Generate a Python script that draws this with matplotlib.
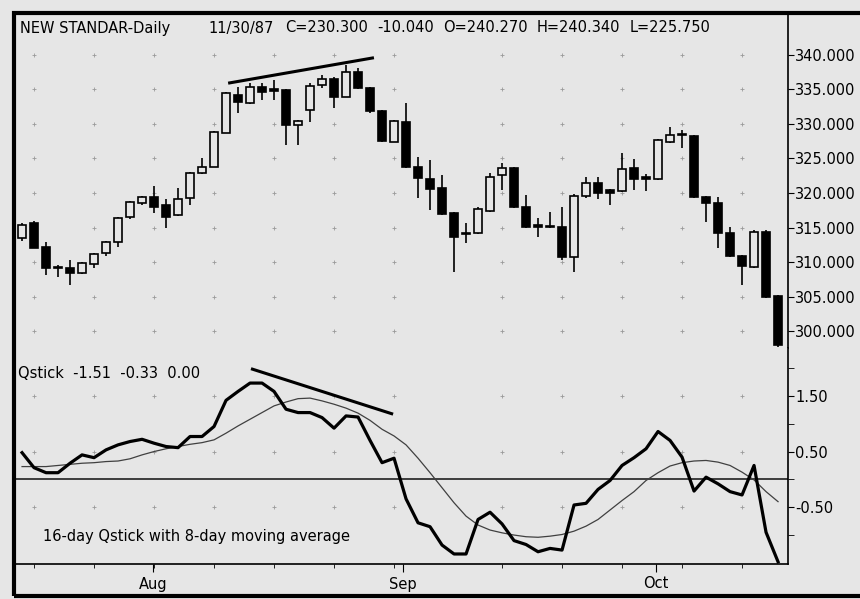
import numpy as np
import matplotlib.pyplot as plt
from matplotlib.patches import Rectangle

plt.rcParams['font.family'] = ['DejaVu Sans']

# daily candles (trading day index 0..63)
opens = [313.5, 315.7, 312.2, 309.3, 309.2, 308.5, 309.8, 311.3, 312.9, 316.5,
         318.6, 319.4, 318.3, 316.8, 319.3, 322.9, 323.8, 328.7, 334.2, 333.0,
         335.3, 334.9, 334.9, 329.8, 332.0, 335.6, 336.5, 333.9, 337.5, 335.2,
         331.8, 327.4, 330.3, 323.8, 322.0, 320.7, 317.1, 314.0, 314.2, 317.4,
         322.6, 323.6, 318.0, 315.3, 315.1, 315.1, 310.8, 319.6, 321.5, 320.4,
         320.3, 323.6, 322.3, 322.0, 327.4, 328.4, 328.2, 319.4, 318.6, 314.2,
         310.9, 309.3, 314.4, 305.1]
highs = [315.6, 315.9, 312.9, 309.6, 310.3, 310.0, 311.3, 313.0, 316.5, 318.9,
         319.6, 321.0, 319.1, 320.7, 323.0, 325.1, 329.0, 334.6, 335.3, 335.9,
         335.9, 336.3, 335.0, 330.6, 335.9, 337.0, 336.8, 338.5, 338.0, 335.3,
         332.0, 330.5, 333.0, 325.2, 324.8, 322.6, 317.2, 315.7, 317.9, 322.9,
         324.3, 323.8, 319.7, 316.4, 317.3, 318.0, 319.8, 322.3, 322.3, 320.5,
         325.8, 324.9, 322.7, 327.8, 329.5, 329.1, 328.4, 319.5, 319.4, 315.1,
         311.1, 314.6, 314.6, 305.3]
lows = [313.0, 312.0, 308.2, 307.9, 306.7, 308.3, 309.2, 310.9, 312.2, 316.3,
        318.3, 317.1, 315.0, 316.6, 318.3, 322.8, 323.7, 328.6, 331.6, 332.9,
        333.4, 333.4, 326.9, 326.9, 330.3, 335.2, 332.3, 333.8, 335.0, 331.6,
        327.3, 327.3, 323.6, 319.3, 317.5, 316.8, 308.6, 312.8, 314.0, 317.2,
        320.4, 317.8, 314.9, 313.6, 315.0, 310.3, 308.6, 319.3, 319.1, 318.3,
        320.1, 320.4, 320.3, 321.9, 327.2, 326.5, 319.2, 315.8, 312.1, 310.7,
        306.7, 309.1, 304.8, 297.8]
closes = [315.4, 312.1, 309.2, 309.2, 308.5, 309.9, 311.2, 312.9, 316.4, 318.7,
          319.4, 318.0, 316.5, 319.1, 322.9, 323.8, 328.8, 334.4, 333.1, 335.3,
          334.6, 334.8, 329.8, 330.4, 335.5, 336.5, 333.9, 337.5, 335.2, 331.8,
          327.5, 330.4, 323.8, 322.2, 320.6, 317.0, 313.6, 314.2, 317.7, 322.3,
          323.6, 318.0, 315.1, 315.1, 315.1, 310.8, 319.6, 321.5, 320.0, 320.0,
          323.5, 322.0, 322.0, 327.7, 328.4, 328.4, 319.4, 318.6, 314.2, 310.9,
          309.5, 314.4, 305.0, 298.0]

# 16-day Qstick and its 8-day moving average
qstick = [0.48, 0.21, 0.12, 0.12, 0.29, 0.44, 0.39, 0.53, 0.62, 0.68,
          0.72, 0.65, 0.59, 0.57, 0.77, 0.77, 0.95, 1.42, 1.58, 1.73,
          1.73, 1.58, 1.26, 1.20, 1.20, 1.11, 0.92, 1.14, 1.12, 0.70,
          0.30, 0.38, -0.35, -0.78, -0.85, -1.18, -1.34, -1.34, -0.72, -0.59,
          -0.80, -1.10, -1.17, -1.30, -1.24, -1.27, -0.46, -0.43, -0.18, -0.02,
          0.25, 0.39, 0.55, 0.86, 0.70, 0.40, -0.21, 0.04, -0.08, -0.22,
          -0.28, 0.25, -0.95, -1.48]
qstick_ma = [0.23, 0.23, 0.23, 0.25, 0.27, 0.29, 0.30, 0.32, 0.33, 0.37,
             0.44, 0.50, 0.55, 0.59, 0.63, 0.66, 0.71, 0.83, 0.96, 1.08,
             1.20, 1.32, 1.39, 1.45, 1.46, 1.41, 1.35, 1.28, 1.19, 1.06,
             0.90, 0.78, 0.62, 0.38, 0.12, -0.15, -0.42, -0.66, -0.82, -0.91,
             -0.96, -1.00, -1.03, -1.04, -1.02, -0.99, -0.93, -0.84, -0.72, -0.55,
             -0.38, -0.22, -0.02, 0.12, 0.24, 0.30, 0.33, 0.34, 0.31, 0.25,
             0.13, -0.01, -0.22, -0.40]

# hand-drawn divergence lines (day index, value)
price_trend = ([17.3, 29.2], [335.9, 339.5])
qstick_trend = ([19.2, 30.8], [1.98, 1.18])

week_ticks = [1, 6, 11, 16, 21, 26, 31, 40, 45, 50, 55, 60]
month_ticks = [10.9, 31.75, 52.8]
month_labels = ['Aug', 'Sep', 'Oct']
price_levels = [300, 305, 310, 315, 320, 325, 330, 335, 340]

header = [('NEW STANDAR-Daily', 20), ('11/30/87', 208), ('C=230.300', 285),
          ('-10.040', 377), ('O=240.270', 443), ('H=240.340', 537), ('L=225.750', 630)]

bg = '#e6e6e6'
W, H = 860, 599
fig = plt.figure(figsize=(8.6, 5.99), dpi=100, facecolor=bg)

def box(l, t, r, b):
    return [l / W, 1 - b / H, (r - l) / W, (b - t) / H]

ax = fig.add_axes(box(14, 13, 788, 348), facecolor=bg)
ax2 = fig.add_axes(box(14, 348, 788, 564), facecolor=bg, sharex=ax)

x = np.arange(len(closes))
o = np.array(opens); c = np.array(closes)
up = c > o
ax.vlines(x, lows, highs, color='black', lw=1.2, zorder=2)
body_h = np.maximum(np.abs(c - o), 0.15)
ax.bar(x, body_h, bottom=np.minimum(o, c), width=0.62,
       color=np.where(up, bg, 'black'), edgecolor='black', lw=1.2, zorder=3)
ax.plot(*price_trend, color='black', lw=2.2)

ax.set_xlim(-0.67, 63.83)
ax.set_ylim(297.6, 346.0)

gx, gy = np.meshgrid(week_ticks, price_levels)
ax.scatter(gx.ravel(), gy.ravel(), marker='+', s=8, color='#9a9a9a', lw=0.6, zorder=1)

ax.yaxis.tick_right()
ax.set_yticks(price_levels)
ax.set_yticklabels(['%.3f' % v for v in price_levels])
ax.tick_params(axis='y', direction='out', length=4, pad=1, labelsize=10.5)
ax.tick_params(axis='x', bottom=False, labelbottom=False)
for s in ['top', 'bottom', 'left']:
    ax.spines[s].set_visible(False)
ax.spines['right'].set_linewidth(1.2)

for txt, px in header:
    fig.text(px / W, 1 - 28 / H, txt, fontsize=10.5, va='center', ha='left')

# Qstick panel
ax2.axhline(0, color='#303030', lw=1.3, zorder=1)
ax2.plot(x, qstick_ma, color='#404040', lw=0.9, zorder=2)
ax2.plot(x, qstick, color='black', lw=2.3, zorder=3)
ax2.plot(*qstick_trend, color='black', lw=2.2)
ax2.set_ylim(-1.52, 2.36)

gx2, gy2 = np.meshgrid(week_ticks, [1.5, 0.5, -0.5])
ax2.scatter(gx2.ravel(), gy2.ravel(), marker='+', s=8, color='#9a9a9a', lw=0.6, zorder=0)

ax2.yaxis.tick_right()
ax2.set_yticks([1.5, 0.5, -0.5])
ax2.set_yticklabels(['1.50', '0.50', '-0.50'])
ax2.set_yticks([2.0, 1.0, 0.0, -1.0], minor=True)
ax2.tick_params(axis='y', which='both', direction='out', length=4, pad=1, labelsize=10.5)

ax2.set_xticks(month_ticks)
ax2.set_xticklabels(month_labels)
ax2.set_xticks(week_ticks, minor=True)
ax2.tick_params(axis='x', which='major', direction='out', length=6, pad=3, labelsize=10.5)
ax2.tick_params(axis='x', which='minor', direction='out', length=3)
for s in ['top', 'left']:
    ax2.spines[s].set_visible(False)
ax2.spines['right'].set_linewidth(1.2)
ax2.spines['bottom'].set_linewidth(1.2)

fig.text(18 / W, 1 - 374 / H, 'Qstick  -1.51  -0.33  0.00', fontsize=10.5, va='center')
fig.text(43 / W, 1 - 537 / H, '16-day Qstick with 8-day moving average', fontsize=10.5, va='center')

fig.patches.append(Rectangle((14 / W, 1 - 596 / H), 1000 / W, 583 / H, fill=False,
                             lw=3, edgecolor='black', transform=fig.transFigure))

fig.savefig('out.png', dpi=100, facecolor=bg)
